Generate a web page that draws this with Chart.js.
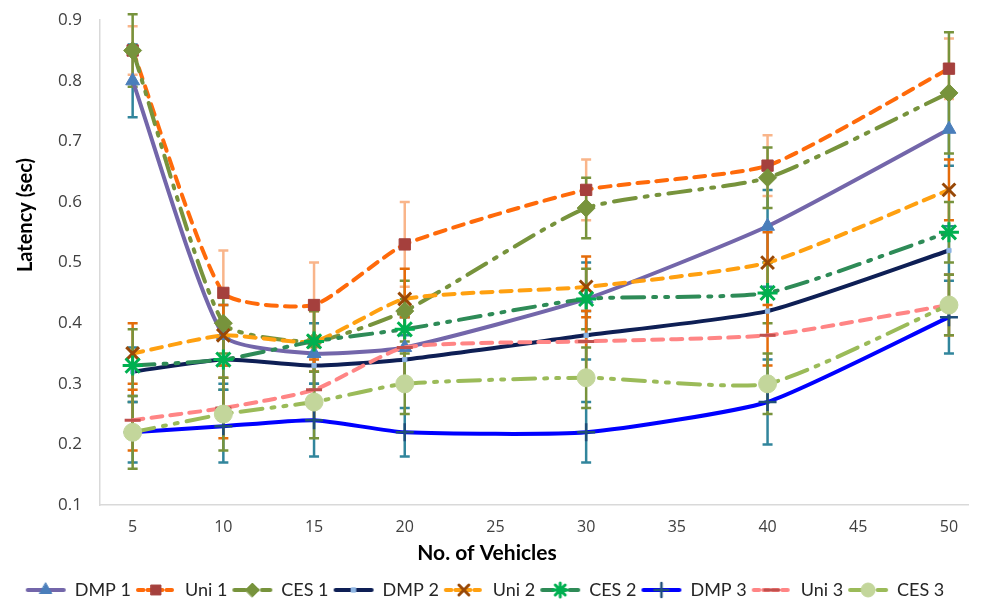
<!DOCTYPE html>
<html>
<head>
<meta charset="utf-8">
<script src="https://cdn.jsdelivr.net/npm/chart.js@4/dist/chart.umd.min.js"></script>
<style>
  html, body { margin: 0; padding: 0; background: #fff; }
  #wrap { width: 981px; height: 609px; }
</style>
</head>
<body>
<div id="wrap"><canvas id="c" width="981" height="609"></canvas></div>
<script>
// Number of vehicles on the x axis
const vehicles = [5, 10, 15, 20, 30, 40, 50];
const xTicks = [5, 10, 15, 20, 25, 30, 35, 40, 45, 50];
const yTicks = [0.1, 0.2, 0.3, 0.4, 0.5, 0.6, 0.7, 0.8, 0.9];

// Latency (sec) per scheme
const dmp1 = [0.80, 0.38, 0.35, 0.36, 0.44, 0.56, 0.72];
const uni1 = [0.85, 0.45, 0.43, 0.53, 0.62, 0.66, 0.82];
const ces1 = [0.85, 0.40, 0.37, 0.42, 0.59, 0.64, 0.78];
const dmp2 = [0.32, 0.34, 0.33, 0.34, 0.38, 0.42, 0.52];
const uni2 = [0.35, 0.38, 0.37, 0.44, 0.46, 0.50, 0.62];
const ces2 = [0.33, 0.34, 0.37, 0.39, 0.44, 0.45, 0.55];
const dmp3 = [0.22, 0.23, 0.24, 0.22, 0.22, 0.27, 0.41];
const uni3 = [0.24, 0.26, 0.29, 0.36, 0.37, 0.38, 0.43];
const ces3 = [0.22, 0.25, 0.27, 0.30, 0.31, 0.30, 0.43];

// Error bar half-lengths
const dmp1Err = [0.06, 0.05, 0.05, 0.05, 0.06, 0.06, 0.06];
const uni1Err = [0.04, 0.07, 0.07, 0.07, 0.05, 0.05, 0.05];
const ces1Err = [0.06, 0.05, 0.05, 0.05, 0.05, 0.05, 0.10];
const dmp2Err = [0.04, 0.04, 0.04, 0.04, 0.04, 0.04, 0.04];
const uni2Err = [0.05, 0.05, 0.05, 0.05, 0.05, 0.05, 0.05];
const ces2Err = [0.06, 0.05, 0.05, 0.05, 0.05, 0.05, 0.05];
const dmp3Err = [0.05, 0.06, 0.06, 0.04, 0.05, 0.07, 0.06];
const uni3Err = [0.05, 0.05, 0.05, 0.05, 0.05, 0.05, 0.05];
const ces3Err = [0.06, 0.06, 0.06, 0.05, 0.05, 0.05, 0.05];

const seriesNames = ['DMP 1', 'Uni 1', 'CES 1', 'DMP 2', 'Uni 2', 'CES 2', 'DMP 3', 'Uni 3', 'CES 3'];
const xTitle = 'No. of Vehicles';
const yTitle = 'Latency (sec)';

const DASH = [11, 8];
const DASH_DOT_DOT = [22, 9, 3, 9, 3, 9];

const styles = [
  { values: dmp1, err: dmp1Err, line: '#7366AA', dash: [], ps: 'triangle', r: 8, mfill: '#4A7EBB', mborder: '#4A7EBB', bw: 1, errColor: '#31859C' },
  { values: uni1, err: uni1Err, line: '#FF6A0A', dash: DASH, ps: 'rect', r: 8, mfill: '#A5403D', mborder: '#A5403D', bw: 1, errColor: '#F9B58A' },
  { values: ces1, err: ces1Err, line: '#77933C', dash: DASH_DOT_DOT, ps: 'rectRot', r: 9, mfill: '#77933C', mborder: '#77933C', bw: 1, errColor: '#77933C' },
  { values: dmp2, err: dmp2Err, line: '#0E1F55', dash: [], ps: 'rect', r: 3, mfill: '#8DB4E2', mborder: '#8DB4E2', bw: 1, errColor: '#31859C' },
  { values: uni2, err: uni2Err, line: '#FFA010', dash: DASH, ps: 'crossRot', r: 9, mfill: '#984807', mborder: '#984807', bw: 3, errColor: '#E46C0A' },
  { values: ces2, err: ces2Err, line: '#2E8B57', dash: DASH_DOT_DOT, ps: 'star', r: 10, mfill: '#00B050', mborder: '#00B050', bw: 3, errColor: '#77933C' },
  { values: dmp3, err: dmp3Err, line: '#0000FF', dash: [], ps: 'cross', r: 9, mfill: '#1F4E79', mborder: '#1F4E79', bw: 2.5, errColor: '#31859C' },
  { values: uni3, err: uni3Err, line: '#FF8585', dash: DASH, ps: 'line', r: 8, mfill: '#C0504D', mborder: '#C0504D', bw: 3, errColor: '#E46C0A' },
  { values: ces3, err: ces3Err, line: '#9BBB59', dash: DASH_DOT_DOT, ps: 'circle', r: 9, mfill: '#C3D69B', mborder: '#C3D69B', bw: 1, errColor: '#77933C' }
];

const datasets = styles.map((s, i) => ({
  label: seriesNames[i],
  data: vehicles.map((v, k) => ({ x: v, y: s.values[k] })),
  errors: s.err,
  errColor: s.errColor,
  borderColor: s.line,
  borderWidth: 4,
  borderDash: s.dash,
  borderCapStyle: 'round',
  tension: 0.18,
  fill: false,
  pointStyle: s.ps,
  pointRadius: s.r,
  pointHoverRadius: s.r,
  pointBackgroundColor: s.mfill,
  pointBorderColor: s.mborder,
  pointBorderWidth: s.bw,
  order: 9 - i
}));

// Legend samples: a short line segment with the series marker on it
function legendSample(s) {
  const c = document.createElement('canvas');
  c.width = 42; c.height = 20;
  const ctx = c.getContext('2d');
  ctx.strokeStyle = s.line;
  ctx.lineWidth = 4;
  ctx.lineCap = 'round';
  ctx.setLineDash(s.dash.length ? s.dash.map(d => d * 0.5) : []);
  ctx.beginPath(); ctx.moveTo(3, 10); ctx.lineTo(39, 10); ctx.stroke();
  ctx.setLineDash([]);
  ctx.fillStyle = s.mfill;
  ctx.strokeStyle = s.mborder;
  ctx.lineWidth = s.bw;
  Chart.helpers.drawPoint(ctx, { pointStyle: s.ps, radius: Math.min(s.r, 7), rotation: 0, borderWidth: s.bw }, 21, 10);
  return c;
}

// Vertical error bars with caps, drawn through the chart's scales
const errorBars = {
  id: 'errorBars',
  beforeDatasetsDraw(chart) {
    const { ctx, scales: { x, y } } = chart;
    ctx.save();
    chart.data.datasets.forEach((ds) => {
      ctx.strokeStyle = ds.errColor;
      ctx.lineWidth = 2.5;
      ds.data.forEach((p, k) => {
        const e = ds.errors[k];
        const px = x.getPixelForValue(p.x);
        const top = y.getPixelForValue(p.y + e);
        const bot = y.getPixelForValue(p.y - e);
        ctx.beginPath();
        ctx.moveTo(px, top); ctx.lineTo(px, bot);
        ctx.moveTo(px - 5, top); ctx.lineTo(px + 5, top);
        ctx.moveTo(px - 5, bot); ctx.lineTo(px + 5, bot);
        ctx.stroke();
      });
    });
    ctx.restore();
  }
};

// Axis titles
const axisTitles = {
  id: 'axisTitles',
  afterDraw(chart) {
    const { ctx } = chart;
    ctx.save();
    ctx.fillStyle = '#000';
    ctx.textAlign = 'center';
    ctx.textBaseline = 'middle';
    ctx.font = 'bold 21px Lato';
    ctx.fillText(xTitle, 487, 553);
    ctx.translate(26, 215);
    ctx.rotate(-Math.PI / 2);
    ctx.font = 'bold 20px Lato';
    ctx.fillText(yTitle, 0, 0);
    ctx.restore();
  }
};

new Chart(document.getElementById('c'), {
  type: 'line',
  data: { datasets },
  plugins: [errorBars, axisTitles],
  options: {
    responsive: false,
    animation: false,
    layout: { padding: { top: 11, right: 11, left: 0, bottom: 0 } },
    plugins: {
      tooltip: { enabled: false },
      legend: {
        position: 'bottom',
        labels: {
          usePointStyle: true,
          pointStyleWidth: 40,
          padding: 5,
          color: '#262626',
          font: { family: 'Lato', size: 18 },
          generateLabels(chart) {
            return chart.data.datasets.map((ds, i) => ({
              text: ds.label,
              pointStyle: legendSample(styles[i]),
              datasetIndex: i,
              hidden: false,
              lineWidth: 0,
              strokeStyle: 'transparent',
              fillStyle: 'transparent',
              fontColor: '#262626'
            }));
          }
        }
      }
    },
    scales: {
      x: {
        type: 'linear',
        min: 3.2,
        max: 51.05,
        afterBuildTicks(scale) { scale.ticks = xTicks.map(v => ({ value: v })); },
        afterFit(scale) { scale.height = 71; },
        grid: { display: false },
        border: { display: true, color: '#D9D9D9', width: 1.5 },
        ticks: { color: '#404040', font: { family: 'Open Sans', size: 16 }, padding: 5, maxRotation: 0 }
      },
      y: {
        min: 0.1,
        max: 0.9,
        afterBuildTicks(scale) { scale.ticks = yTicks.map(v => ({ value: v })); },
        afterFit(scale) { scale.width = 100; },
        grid: { display: false },
        border: { display: true, color: '#D9D9D9', width: 1.5 },
        ticks: { color: '#404040', font: { family: 'Open Sans', size: 17 }, padding: 10, callback: v => Number(v).toFixed(1) }
      }
    }
  }
});
</script>
</body>
</html>
